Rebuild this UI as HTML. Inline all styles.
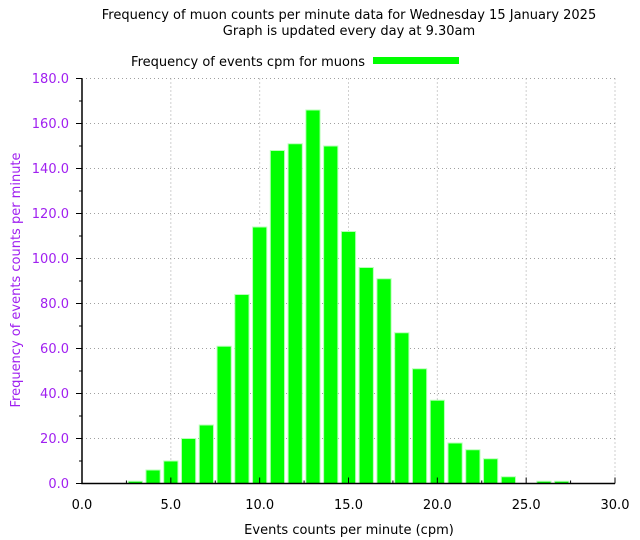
<!DOCTYPE html>
<html><head><meta charset="utf-8"><style>body{margin:0;background:#fff}svg{display:block;font-family:"DejaVu Sans","Liberation Sans",sans-serif}</style></head>
<body>
<svg id="chart" width="640" height="540" viewBox="0 0 640 540">
<text x="349" y="19" text-anchor="middle" font-size="13">Frequency of muon counts per minute data for Wednesday 15 January 2025</text>
<text x="349" y="35" text-anchor="middle" font-size="13">Graph is updated every day at 9.30am</text>
<g>
<text x="365" y="66" text-anchor="end" font-size="13">Frequency of events cpm for muons</text>
<rect x="373" y="57" width="86" height="7" fill="#00ff00"/>
</g>
<g id="grid"></g>
<g id="bars"></g>
<g id="axes"></g>
<text x="349" y="534" text-anchor="middle" font-size="13">Events counts per minute (cpm)</text>
<text transform="translate(20,280) rotate(-90)" text-anchor="middle" font-size="13" fill="#a020f0">Frequency of events counts per minute</text>
</svg>
<script>
const categories=[3,4,5,6,7,8,9,10,11,12,13,14,15,16,17,18,19,20,21,22,23,24,25,26,27];
const counts=[1,6,10,20,26,61,84,114,148,151,166,150,112,96,91,67,51,37,18,15,11,3,0,1,1];
const xTicks=["0.0","5.0","10.0","15.0","20.0","25.0","30.0"];
const yTicks=["0.0","20.0","40.0","60.0","80.0","100.0","120.0","140.0","160.0","180.0"];
const NS="http://www.w3.org/2000/svg";
const X0=82,X1=615,Y0=483.5,Y1=78.5,XMAX=30,YMAX=180;
const xs=v=>X0+(v/XMAX)*(X1-X0);
const ys=v=>Y0-(v/YMAX)*(Y0-Y1);
function mk(t,a,p){const e=document.createElementNS(NS,t);for(const k in a)e.setAttribute(k,a[k]);p.appendChild(e);return e;}
const grid=document.getElementById('grid'),bars=document.getElementById('bars'),axes=document.getElementById('axes');
xTicks.forEach((l,i)=>{const v=parseFloat(l);const x=xs(v);
 if(i>0){const g=mk('line',{x1:x,x2:x,y1:Y1,y2:Y0,stroke:'#a0a0a0','stroke-dasharray':'1,3'},grid);
 
 }
 const t=mk('line',{x1:x,x2:x,y1:Y0,y2:Y0-6,stroke:'#000'},axes);
 
 
 const tx=mk('text',{x:x,y:509,'text-anchor':'middle','font-size':13},axes);tx.textContent=l;
 
 
 if(i<xTicks.length-1){const mx=xs(v+2.5);const m=mk('line',{x1:mx,x2:mx,y1:Y0,y2:Y0-3,stroke:'#000'},axes);
 
 }
});
yTicks.forEach((l,i)=>{const v=parseFloat(l);const y=ys(v);
 if(i>0){const g=mk('line',{x1:X0,x2:X1,y1:y,y2:y,stroke:'#a0a0a0','stroke-dasharray':'1,3'},grid);
 
 }
 const t=mk('line',{x1:X0,x2:X0-6,y1:y,y2:y,stroke:'#000'},axes);
 
 
 const tx=mk('text',{x:69,y:y+4.5,'text-anchor':'end','font-size':13,fill:'#a020f0'},axes);tx.textContent=l;
 
 
 if(i<yTicks.length-1){const my=ys(v+10);const m=mk('line',{x1:X0,x2:X0-3,y1:my,y2:my,stroke:'#000'},axes);
 
 }
});
categories.forEach((c,i)=>{const v=counts[i];if(v<=0)return;const w=xs(0.8)-xs(0);
 const b=mk('rect',{x:xs(c)-w/2,y:ys(v),width:w,height:Y0-ys(v),fill:'#00ff00',stroke:'#b8ffb8','stroke-width':1},bars);
 
 
});
const ax=mk('path',{d:`M${X0},${Y1}V${Y0}H${X1}`,fill:'none',stroke:'#000','stroke-width':1.5},axes);


</script>
</body></html>
